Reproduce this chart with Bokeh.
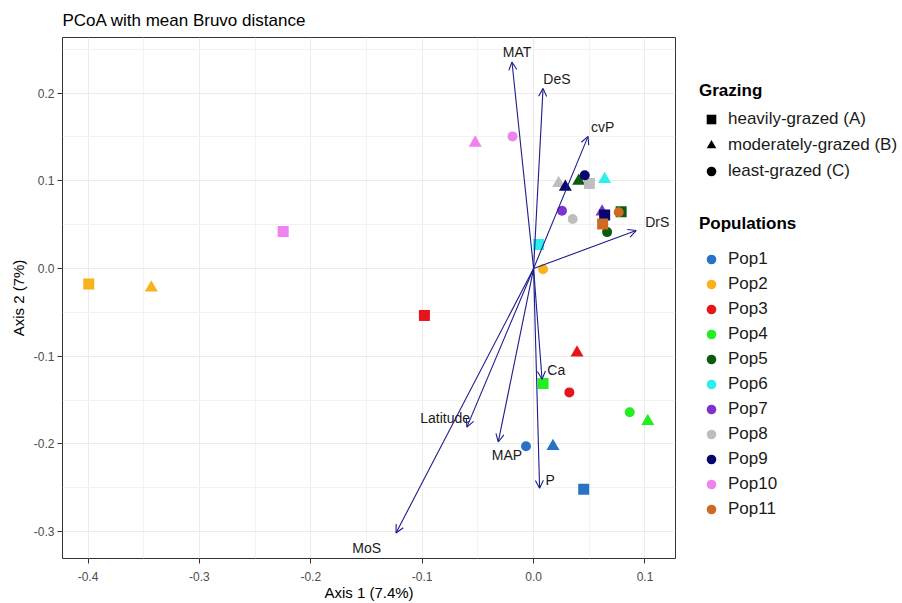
from bokeh.plotting import figure
from bokeh.layouts import row
from bokeh.models import (ColumnDataSource, Arrow, OpenHead, Legend, LegendItem,
                          FixedTicker, Range1d)
from bokeh.transform import factor_cmap, factor_mark
from bokeh.core.properties import value
from bokeh.embed import file_html
from bokeh.resources import INLINE

# ---------------- data ----------------
populations = ["Pop1", "Pop2", "Pop3", "Pop4", "Pop5", "Pop6", "Pop7", "Pop8",
               "Pop9", "Pop10", "Pop11"]
pop_colors = ["#2A72C4", "#F7B21C", "#E8141C", "#22EE22", "#0C5C0C", "#2DEEEE",
              "#7E33D0", "#BEBEBE", "#06066E", "#EE82EE", "#CD6B25"]

grazing_levels = ["A", "B", "C"]
grazing_labels = ["heavily-grazed (A)", "moderately-grazed (B)", "least-grazed (C)"]
grazing_markers = ["square", "triangle", "circle"]

point_pop = ["Pop1", "Pop1", "Pop1",
             "Pop2", "Pop2", "Pop2",
             "Pop3", "Pop3", "Pop3",
             "Pop4", "Pop4", "Pop4",
             "Pop5", "Pop5", "Pop5",
             "Pop6", "Pop6",
             "Pop7", "Pop7",
             "Pop8", "Pop8", "Pop8",
             "Pop9", "Pop9", "Pop9",
             "Pop10", "Pop10", "Pop10",
             "Pop11", "Pop11"]
point_grazing = ["A", "B", "C",
                 "A", "B", "C",
                 "A", "B", "C",
                 "A", "B", "C",
                 "A", "B", "C",
                 "A", "B",
                 "B", "C",
                 "A", "B", "C",
                 "A", "B", "C",
                 "A", "B", "C",
                 "A", "C"]
axis1 = [0.0450, 0.0174, -0.0068,
         -0.3993, -0.3432, 0.0085,
         -0.0980, 0.0390, 0.0321,
         0.0085, 0.1025, 0.0863,
         0.0786, 0.0405, 0.0660,
         0.0045, 0.0638,
         0.0615, 0.0255,
         0.0501, 0.0225, 0.0351,
         0.0638, 0.0285, 0.0459,
         -0.2248, -0.0524, -0.0189,
         0.0620, 0.0764]
axis2 = [-0.2516, -0.2026, -0.2026,
         -0.0177, -0.0218, -0.0008,
         -0.0535, -0.0960, -0.1412,
         -0.1310, -0.1740, -0.1638,
         0.0647, 0.0998, 0.0415,
         0.0275, 0.1017,
         0.0647, 0.0659,
         0.0968, 0.0972, 0.0565,
         0.0610, 0.0930, 0.1062,
         0.0421, 0.1432, 0.1506,
         0.0508, 0.0641]

vectors = ["MAT", "DeS", "cvP", "DrS", "Ca", "Latitude", "MAP", "P", "MoS"]
vec_x = [-0.0194, 0.0085, 0.0489, 0.0921, 0.0076, -0.0599, -0.0317, 0.0054, -0.1235]
vec_y = [0.2354, 0.2053, 0.1506, 0.0433, -0.1262, -0.1808, -0.1977, -0.2505, -0.3014]
lab_x = [-0.0149, 0.0210, 0.0620, 0.1110, 0.0204, -0.0794, -0.0239, 0.0150, -0.1498]
lab_y = [0.2467, 0.2155, 0.1612, 0.0534, -0.1160, -0.1703, -0.2128, -0.2410, -0.3183]

x_ticks = [-0.4, -0.3, -0.2, -0.1, 0.0, 0.1]
y_ticks = [-0.3, -0.2, -0.1, 0.0, 0.1, 0.2]

# ---------------- main figure ----------------
FONT = "Liberation Sans"
p = figure(width=676, height=603, output_backend="svg", toolbar_location=None,
           x_range=Range1d(-0.4229, 0.1274), y_range=Range1d(-0.3305, 0.2633),
           min_border_left=62, min_border_right=1, min_border_top=37,
           min_border_bottom=41, title="PCoA with mean Bruvo distance")
p.background_fill_color = "white"
p.border_fill_color = "white"
p.outline_line_color = "#333333"
p.outline_line_width = 1

p.title.text_font = FONT
p.title.text_font_size = "17px"
p.title.text_font_style = "normal"
p.title.text_color = "#000000"
p.title.offset = 0
p.title.standoff = 15

p.xaxis.ticker = FixedTicker(ticks=x_ticks, minor_ticks=[-0.45, -0.35, -0.25, -0.15, -0.05, 0.05, 0.15])
p.yaxis.ticker = FixedTicker(ticks=y_ticks, minor_ticks=[-0.35, -0.25, -0.15, -0.05, 0.05, 0.15, 0.25])
p.xaxis.major_label_overrides = {t: f"{t:.1f}" for t in x_ticks}
p.yaxis.major_label_overrides = {t: f"{t:.1f}" for t in y_ticks}
p.xaxis.axis_label = "Axis 1 (7.4%)"
p.yaxis.axis_label = "Axis 2 (7%)"
for ax in (p.xaxis, p.yaxis):
    ax.axis_line_color = None
    ax.major_tick_line_color = "#333333"
    ax.major_tick_out = 5
    ax.major_tick_in = 0
    ax.minor_tick_line_color = None
    ax.major_label_text_font = FONT
    ax.major_label_text_font_size = "12px"
    ax.major_label_text_color = "#4D4D4D"
    ax.axis_label_text_font = FONT
    ax.axis_label_text_font_size = "15px"
    ax.axis_label_text_font_style = "normal"
    ax.axis_label_text_color = "#000000"
p.xaxis.major_label_standoff = 8
p.xaxis.axis_label_standoff = 0
p.yaxis.major_label_standoff = 3
p.yaxis.axis_label_standoff = 4

for g in (p.xgrid, p.ygrid):
    g.grid_line_color = "#EBEBEB"
    g.grid_line_width = 1
    g.minor_grid_line_color = "#F2F2F2"
    g.minor_grid_line_width = 1

# ---------------- arrows ----------------
vsrc = ColumnDataSource(dict(x0=[0.0] * len(vectors), y0=[0.0] * len(vectors),
                             x1=vec_x, y1=vec_y, lx=lab_x, ly=lab_y, name=vectors))
p.add_layout(Arrow(source=vsrc, x_start="x0", y_start="y0", x_end="x1", y_end="y1",
                   line_color="#1C1C8C", line_width=1.1,
                   end=OpenHead(size=8, line_color="#1C1C8C", line_width=1.1)))
p.text(x="lx", y="ly", text="name", source=vsrc, text_font=value(FONT),
       text_font_size="14px", text_color="#1A1A1A", text_align="center",
       text_baseline="middle")

# ---------------- points ----------------
size_map = {"A": 11, "B": 13, "C": 10}
src = ColumnDataSource(dict(x=axis1, y=axis2, pop=point_pop, grazing=point_grazing,
                            size=[size_map[g] for g in point_grazing]))
p.scatter(x="x", y="y", source=src, size="size",
          marker=factor_mark("grazing", grazing_markers, grazing_levels),
          color=factor_cmap("pop", pop_colors, populations), line_width=0)

# ---------------- legend panel ----------------
lf = figure(width=226, height=603, output_backend="svg", toolbar_location=None,
            x_range=Range1d(0, 1), y_range=Range1d(0, 1),
            x_axis_location=None, y_axis_location=None,
            min_border_left=0, min_border_right=0, min_border_top=0, min_border_bottom=0)
lf.outline_line_color = None
lf.xgrid.visible = False
lf.ygrid.visible = False
lf.background_fill_color = "white"
lf.border_fill_color = "white"

# legend-key sources: NaN positions, so only the legend keys are drawn
nan = float("nan")
gsrc = ColumnDataSource(dict(x=[nan] * len(grazing_levels), y=[nan] * len(grazing_levels),
                             grazing=grazing_levels))
g_r = lf.scatter(x="x", y="y", source=gsrc, size=10, color="black", line_width=0,
                 marker=factor_mark("grazing", grazing_markers, grazing_levels))
g_items = [LegendItem(label=lab, renderers=[g_r], index=i)
           for i, lab in enumerate(grazing_labels)]

psrc = ColumnDataSource(dict(x=[nan] * len(populations), y=[nan] * len(populations),
                             pop=populations))
p_r = lf.scatter(x="x", y="y", source=psrc, size=10, marker="circle", line_width=0,
                 color=factor_cmap("pop", pop_colors, populations))
p_items = [LegendItem(label=pop, renderers=[p_r], index=i)
           for i, pop in enumerate(populations)]


def style_legend(lg, spacing, standoff):
    lg.title_text_font = FONT
    lg.title_text_font_size = "17px"
    lg.title_text_font_style = "bold"
    lg.title_text_color = "#000000"
    lg.title_standoff = standoff
    lg.label_text_font = FONT
    lg.label_text_font_size = "17px"
    lg.label_text_color = "#1A1A1A"
    lg.glyph_width = 24
    lg.glyph_height = 24
    lg.label_height = 20
    lg.label_standoff = 5
    lg.spacing = spacing
    lg.padding = 0
    lg.margin = 0
    lg.border_line_color = None
    lg.background_fill_color = None
    lg.click_policy = "none"


# location = bottom-left corner of the legend box
leg_g = Legend(items=g_items, title="Grazing", location=(23, 375))
style_legend(leg_g, 2, 6)
leg_p = Legend(items=p_items, title="Populations", location=(23, 37))
style_legend(leg_p, 1, 13)
lf.add_layout(leg_g, "center")
lf.add_layout(leg_p, "center")

layout = row(p, lf, spacing=0)
open("out.html", "w").write(file_html(layout, INLINE))
